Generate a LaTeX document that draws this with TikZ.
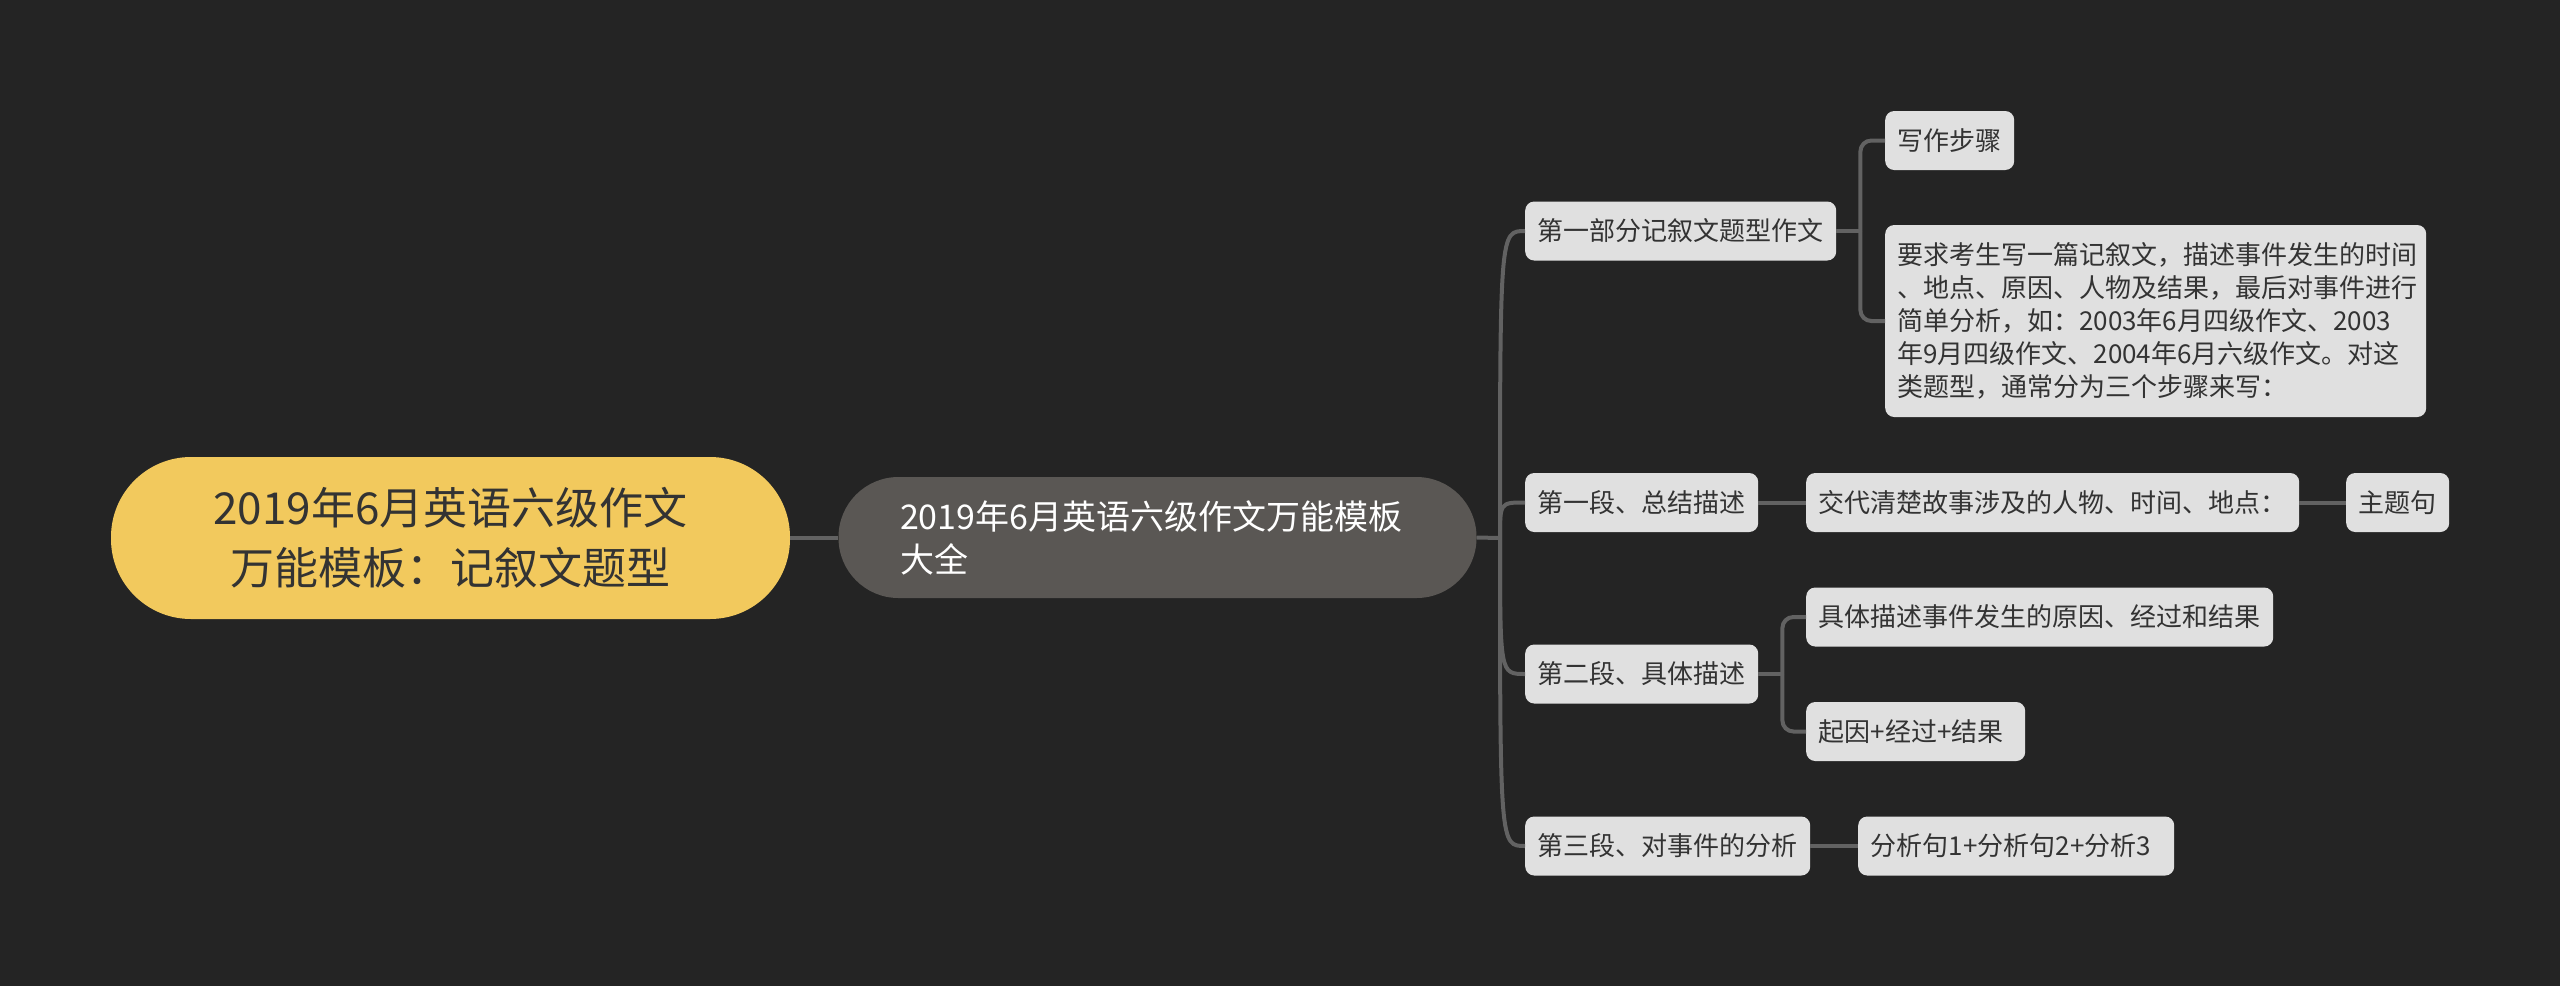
\documentclass[tikz,border=0pt]{standalone}
\usepackage{fontspec}
\setmainfont{Noto Sans CJK SC}
\definecolor{bgc}{HTML}{242424}
\definecolor{rootc}{HTML}{F2C95D}
\definecolor{midc}{HTML}{5A5754}
\definecolor{boxc}{HTML}{E0E0E0}
\definecolor{txtc}{HTML}{333333}
\definecolor{linec}{HTML}{626262}
\tikzset{
  rootbox/.style={fill=rootc, rounded corners=80pt, minimum width=679pt, minimum height=162pt, inner sep=0pt, text=txtc, align=center, font=\fontsize{44}{60}\selectfont},
  midbox/.style={fill=midc, rounded corners=60pt, minimum width=638pt, minimum height=121pt, inner sep=0pt, text=white, text width=515pt, align=left, font=\fontsize{34}{43}\selectfont},
  leaf/.style={fill=boxc, rounded corners=9pt, text=txtc, font=\fontsize{26}{33}\selectfont, inner xsep=12.5pt, inner ysep=0pt, minimum height=59pt, anchor=west},
  conn/.style={draw=linec, line width=4pt},
  elbow/.style={conn, rounded corners=11pt},
}
\begin{document}
\begin{tikzpicture}[x=1pt,y=-1pt]
\fill[bgc] (0,0) rectangle (2560,986);
\useasboundingbox (0,0) rectangle (2560,986);

\node[rootbox] (root) at (450.5,538) {2019年6月英语六级作文\\万能模板：记叙文题型};
\node[midbox] (mid) at (1157.5,537.5) {2019年6月英语六级作文万能模板\\大全};

\node[leaf] (n1) at (1525,231) {第一部分记叙文题型作文};
\node[leaf] (n11) at (1885,140.5) {写作步骤};
\node[leaf, minimum height=192pt, text width=517pt, align=left, inner xsep=12pt] (n12) at (1885,321) {要求考生写一篇记叙文，描述事件发生的时间\\、地点、原因、人物及结果，最后对事件进行\\简单分析，如：2003年6月四级作文、2003\\年9月四级作文、2004年6月六级作文。对这\\类题型，通常分为三个步骤来写：};

\node[leaf] (n2) at (1525,502.5) {第一段、总结描述};
\node[leaf] (n21) at (1806,502.5) {交代清楚故事涉及的人物、时间、地点：};
\node[leaf] (n211) at (2346,502.5) {主题句};

\node[leaf] (n3) at (1525,674) {第二段、具体描述};
\node[leaf] (n31) at (1806,617) {具体描述事件发生的原因、经过和结果};
\node[leaf, minimum width=219pt, align=left, text width=194pt] (n32) at (1806,731.5) {起因+经过+结果};

\node[leaf] (n4) at (1525,846) {第三段、对事件的分析};
\node[leaf, minimum width=316pt, align=left, text width=291pt] (n41) at (1858,846) {分析句1+分析句2+分析3};

% root to mid
\draw[conn] (root.east) -- (mid.west |- root.east);

% mid to level 1
\coordinate (j0) at (1500,538);
\draw[conn] (mid.east) -- (j0);
\foreach \c in {n1,n2,n3,n4}{
  \draw[conn] (j0) .. controls (j0 |- \c.west) and (j0 |- \c.west) .. (\c.west);
}

% level 1 to level 2
\coordinate (j1) at ([xshift=24pt]n1.east);
\draw[conn] (n1.east) -- (j1);
\draw[elbow] (j1) |- (n11.west);
\draw[elbow] (j1) |- (n12.west);

\draw[conn] (n2.east) -- (n21.west);
\draw[conn] (n21.east) -- (n211.west);

\coordinate (j3) at ([xshift=24pt]n3.east);
\draw[conn] (n3.east) -- (j3);
\draw[elbow] (j3) |- (n31.west);
\draw[elbow] (j3) |- (n32.west);

\draw[conn] (n4.east) -- (n41.west);
\end{tikzpicture}
\end{document}
